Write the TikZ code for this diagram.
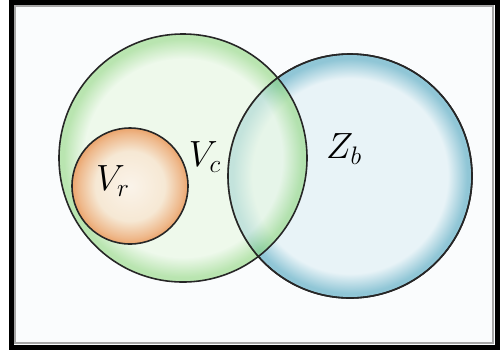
\documentclass[tikz,border=0pt]{standalone}
\usepackage{amsmath}
\usepackage{tikz}
\usetikzlibrary{positioning}
\usepackage{xcolor}
\definecolor{vcPale}{HTML}{E6F7E0}
\definecolor{vcRim}{HTML}{8FD67E}
\definecolor{zbPale}{HTML}{E8F3F7}
\definecolor{zbRim}{HTML}{90C6D6}
\definecolor{vrPale}{HTML}{F6E8D4}
\definecolor{vrRim}{HTML}{EBA46C}
\definecolor{framebg}{HTML}{FAFCFD}

\pgfdeclareradialshading{vcshade}{\pgfpoint{0bp}{0bp}}{color(0bp)=(vcPale); color(20bp)=(vcPale); color(24bp)=(vcRim); color(25bp)=(vcRim); color(50bp)=(vcRim)}
\pgfdeclareradialshading{zbshade}{\pgfpoint{0bp}{0bp}}{color(0bp)=(zbPale); color(20bp)=(zbPale); color(24bp)=(zbRim); color(25bp)=(zbRim); color(50bp)=(zbRim)}
\pgfdeclareradialshading{vrshade}{\pgfpoint{0bp}{0bp}}{color(0bp)=(vrPale!50!white); color(15bp)=(vrPale); color(22.5bp)=(vrRim!70!vrPale); color(25bp)=(vrRim); color(50bp)=(vrRim)}

\begin{document}
\begin{tikzpicture}[
    bubble/.style={circle, draw=black!85, line width=0.9pt, inner sep=0pt},
    rim/.style={draw=black!85, line width=0.9pt},
    setlabel/.style={inner sep=0pt, font=\fontsize{21}{25}\selectfont}
]
\useasboundingbox (0,0) rectangle (10,7);

% Frame
\draw[line width=0.1cm, fill=framebg] (0.22,0.05) rectangle (9.95,6.96);
\draw[black!35, line width=0.6pt] (0.3,0.14) rectangle (9.86,6.88);

% Sets
\node[bubble, minimum size=4.88cm, shading=zbshade] (zb) at (7.0,3.48) {};
\node[bubble, minimum size=4.96cm, shading=vcshade, fill opacity=0.6] (vc) at (3.66,3.84) {};
\draw[rim] (zb.center) circle[radius=2.44cm];
\node[bubble, minimum size=2.32cm, shading=vrshade] (vr) at (2.6,3.28) {};

% Labels
\node[setlabel] (vrlabel) at (2.26,3.38) {$V_r$};
\node[setlabel] (vclabel) at (4.1,3.86) {$V_c$};
\node[setlabel] (zblabel) at (6.88,4.02) {$Z_b$};

\end{tikzpicture}
\end{document}
